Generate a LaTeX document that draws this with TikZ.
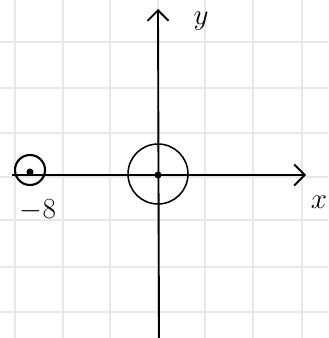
\documentclass[tikz,border=0pt]{standalone}
\usetikzlibrary{arrows.meta,positioning}
\tikzset{
  gridln/.style={draw=gray!18,line width=1.2pt},
  axis/.style={-{Straight Barb[length=9pt,width=18pt,line width=1.6pt]},line width=1.6pt},
  ring/.style={circle,draw,line width=1.3pt,inner sep=0pt},
  pt/.style={circle,fill,inner sep=0pt,minimum size=6pt},
  lbl/.style={font=\fontsize{24}{28}\selectfont}
}
\begin{document}
\begin{tikzpicture}[x=0.03cm,y=0.03cm]
  \useasboundingbox (0,0) rectangle (328,338);
  % squared paper
  \foreach \gx in {15,63,110,158,205,253,302}
    \draw[gridln] (\gx,0) -- (\gx,338);
  \foreach \gy in {296,250,205,161,118,71,26}
    \draw[gridln] (0,\gy) -- (328,\gy);

  \coordinate (org) at (158,163);
  \coordinate (xbeg) at (12,163);
  \coordinate (xend) at (306,163);
  \coordinate (ybeg) at (159,0);
  \coordinate (yend) at (158,329);

  \draw[axis] (xbeg) -- (xend);
  \draw[axis] (ybeg) -- (yend);

  \node[ring, minimum size=1.8cm] (bigring) at (158,164) {};
  \node[pt] (orgdot) at (org) {};
  \node[ring, line width=1.8pt, minimum size=0.9cm] (smallring) at (30,168) {};
  \node[pt, minimum size=6pt] (poledot) at (30,166) {};

  \node[lbl] (minus8) at (38,128) {$-8$};
  \node[lbl] (xlab) at (319,136) {$x$};
  \node[lbl] (ylab) at (201,317) {$y$};
\end{tikzpicture}
\end{document}
